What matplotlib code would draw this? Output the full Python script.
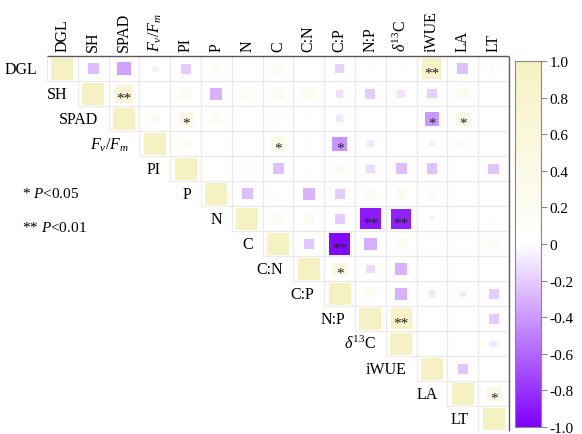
import matplotlib
matplotlib.use("Agg")
import matplotlib.pyplot as plt
import numpy as np
from matplotlib.colors import LinearSegmentedColormap, Normalize
from matplotlib.cm import ScalarMappable
from matplotlib.patches import Rectangle
from matplotlib.transforms import offset_copy

plt.rcParams['font.family'] = 'Liberation Serif'
plt.rcParams['mathtext.fontset'] = 'custom'
plt.rcParams['mathtext.rm'] = 'Liberation Serif'
plt.rcParams['mathtext.it'] = 'Liberation Serif:italic'
plt.rcParams['mathtext.bf'] = 'Liberation Serif:bold'

# Variables (diagonal order)
labels = ['DGL', 'SH', 'SPAD', r'$F_v/F_m$', 'PI', 'P', 'N', 'C', 'C:N', 'C:P',
          'N:P', r'$\delta^{13}$C', 'iWUE', 'LA', 'LT']

# Upper-triangle correlations, each row starts right of the diagonal
r_DGL = [-0.26, -0.36, -0.07, -0.20, 0.18, 0.02, 0.20, 0.01, -0.18, -0.02, 0.10, 0.88, -0.25, 0.17]
r_SH = [0.68, 0.03, 0.25, -0.30, 0.20, 0.25, 0.30, -0.12, -0.20, -0.12, -0.18, 0.28, 0.0]
r_SPAD = [0.20, 0.40, 0.20, 0.0, 0.13, 0.13, -0.10, 0.0, 0.0, -0.40, 0.42, 0.03]
r_FvFm = [0.20, 0.0, 0.03, 0.42, 0.13, -0.42, -0.10, 0.05, -0.06, 0.20, 0.03]
r_PI = [0.0, 0.13, -0.25, 0.13, 0.20, -0.14, -0.26, -0.24, 0.0, -0.22]
r_P = [-0.25, 0.10, -0.30, -0.20, 0.20, 0.25, 0.20, 0.0, 0.0]
r_N = [0.20, 0.20, -0.20, -0.90, -0.86, -0.05, 0.0, 0.13]
r_C = [-0.22, -0.96, -0.32, 0.25, 0.03, 0.02, 0.20]
r_CN = [0.42, -0.14, -0.30, 0.03, 0.01, 0.05]
r_CP = [0.20, -0.30, -0.10, -0.08, -0.20]
r_NP = [0.90, 0.03, -0.01, -0.20]
r_d13C = [0.05, 0.0, -0.08]
r_iWUE = [-0.22, 0.0]
r_LA = [0.40]

# Significance marks: (row, column, mark)
sig_marks = [(0, 12, '**'), (1, 2, '**'), (2, 4, '*'), (2, 12, '*'), (2, 13, '*'),
             (3, 7, '*'), (3, 9, '*'), (6, 10, '**'), (6, 11, '**'), (7, 9, '**'),
             (8, 9, '*'), (10, 11, '**'), (13, 14, '*')]

cbar_ticks = [1.0, 0.8, 0.6, 0.4, 0.2, 0, -0.2, -0.4, -0.6, -0.8, -1.0]

n = len(labels)
rows = [r_DGL, r_SH, r_SPAD, r_FvFm, r_PI, r_P, r_N, r_C, r_CN, r_CP,
        r_NP, r_d13C, r_iWUE, r_LA]
corr = np.eye(n)
for i, vals in enumerate(rows):
    corr[i, i + 1:] = vals

W, H = 582, 435
fig = plt.figure(figsize=(W / 100, H / 100), dpi=100)

# grid area in pixels
gx0, gx1, gy0, gy1 = 47, 509, 57.3, 432.3
ax = fig.add_axes([gx0 / W, (H - gy1) / H, (gx1 - gx0) / W, (gy1 - gy0) / H])
ax.set_xlim(0, n)
ax.set_ylim(n, 0)
ax.axis('off')
cw = (gx1 - gx0) / n
ch = (gy1 - gy0) / n

cmap = LinearSegmentedColormap.from_list('pu_ye', ['#7F00FF', '#FFFFFF', '#F6F1C2'])
norm = Normalize(-1, 1)
smax = 22.0

for i in range(n):
    for j in range(i, n):
        ax.add_patch(Rectangle((j, i), 1, 1, fill=False, ec='#EAEAEA', lw=0.8))
for i in range(n):
    for j in range(i, n):
        r = corr[i, j]
        s = smax * np.sqrt(abs(r))
        w, h = s / cw, s / ch
        ax.add_patch(Rectangle((j + 0.5 - w / 2, i + 0.5 - h / 2), w, h,
                               fc=cmap(norm(r)), ec='none'))

# outer frame (top and right)
ax.plot([0, n], [0, 0], color='#5A5A5A', lw=1.0, clip_on=False, solid_capstyle='butt')
ax.plot([n, n], [0, n], color='#5A5A5A', lw=1.0, clip_on=False, solid_capstyle='butt')

fs = 11.5
left_tr = offset_copy(ax.transData, fig=fig, x=-10, y=0, units='dots')
top_tr = offset_copy(ax.transData, fig=fig, x=0, y=5, units='dots')
for k, lab in enumerate(labels):
    ax.text(k, k + 0.5, lab, ha='right', va='center', fontsize=fs,
            transform=left_tr, clip_on=False)
    ax.text(k + 0.5, 0, lab, ha='center', va='bottom', rotation=90,
            fontsize=fs, transform=top_tr, clip_on=False)

star_tr = offset_copy(ax.transData, fig=fig, x=0, y=-4, units='dots')
for i, j, mark in sig_marks:
    ax.text(j + 0.5, i + 0.5, mark, ha='center', va='center', fontsize=11,
            color='#222222', transform=star_tr)

# colour bar
cax = fig.add_axes([515 / W, (H - 428) / H, 26 / W, 366 / H])
cb = fig.colorbar(ScalarMappable(norm=norm, cmap=cmap), cax=cax, ticks=cbar_ticks)
cb.ax.set_yticklabels(['0' if t == 0 else f'{t:.1f}' for t in cbar_ticks])
cb.outline.set_edgecolor('#888888')
cb.outline.set_linewidth(0.8)
cax.tick_params(length=4, width=0.8, color='#888888', labelsize=11, pad=2)

fig.text(22 / W, 1 - 194 / H, r'* $P$<0.05', ha='left', va='center', fontsize=11)
fig.text(22 / W, 1 - 228 / H, r'** $P$<0.01', ha='left', va='center', fontsize=11)

fig.savefig('out.png', dpi=100)
